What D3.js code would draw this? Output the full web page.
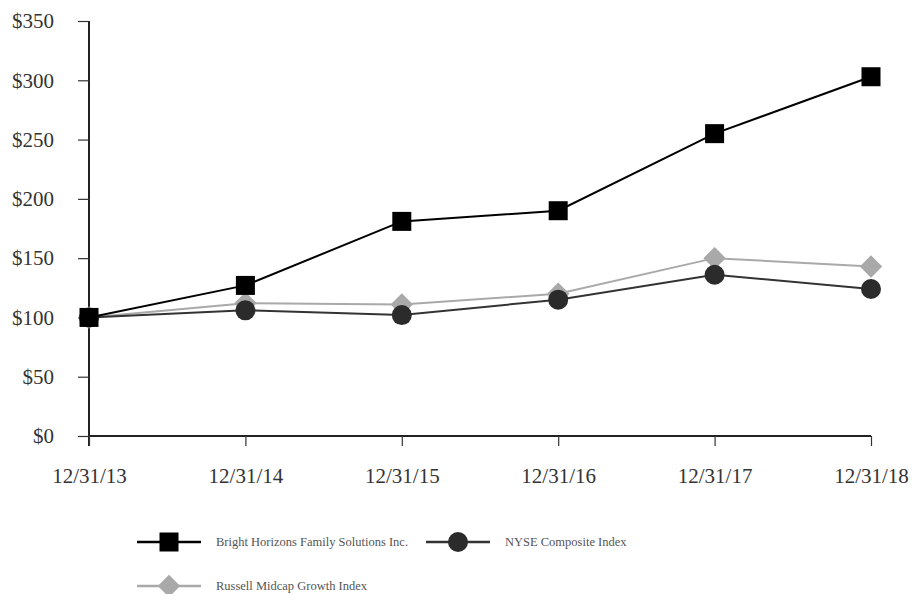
<!DOCTYPE html>
<html>
<head>
<meta charset="utf-8">
<script src="https://cdn.jsdelivr.net/npm/d3@7"></script>
<style>
  body { margin: 0; background: #fff; }
  text { font-family: "Liberation Serif", "Times New Roman", serif; }
</style>
</head>
<body>
<script>
var dates = ["12/31/13", "12/31/14", "12/31/15", "12/31/16", "12/31/17", "12/31/18"];
var brightHorizons = [100, 127, 181, 190, 255, 303];
var nyseComposite = [100, 106, 102, 115, 136, 124];
var russellMidcap = [100, 112, 111, 120, 150, 143];
var yTicks = [0, 50, 100, 150, 200, 250, 300, 350];

var series = [
  {name: "Russell Midcap Growth Index", values: russellMidcap, color: "#a9a9a9", fill: "#a9a9a9", shape: "diamond"},
  {name: "NYSE Composite Index", values: nyseComposite, color: "#333", fill: "#2b2b2b", shape: "circle"},
  {name: "Bright Horizons Family Solutions Inc.", values: brightHorizons, color: "#000", fill: "#000", shape: "square"}
];

var svg = d3.select("body").append("svg")
  .attr("width", 914)
  .attr("height", 594);

var x = d3.scalePoint().domain(dates).range([89, 871]);
var y = d3.scaleLinear().domain([0, 350]).range([436, 21]);

var yAxis = svg.append("g")
  .attr("transform", "translate(89,0)")
  .call(d3.axisLeft(y).tickValues(yTicks).tickSize(11).tickPadding(24).tickFormat(function(d){ return "$" + d; }));
var xAxis = svg.append("g")
  .attr("transform", "translate(0,436)")
  .call(d3.axisBottom(x).tickSize(10).tickPadding(22));

[yAxis, xAxis].forEach(function(g){
  g.select(".domain").attr("stroke", "#222").attr("stroke-width", 2);
  g.selectAll(".tick line").attr("stroke", "#333").attr("stroke-width", 1.2);
  g.selectAll(".tick text").attr("fill", "#333").style("font-size", "21px").style("font-family", "Liberation Serif, serif");
});
xAxis.select(".domain").attr("d", "M89,0H871");
yAxis.select(".domain").attr("d", "M0,21V446");

function marker(g, shape, fill, cx, cy) {
  if (shape == "square") {
    g.append("rect").attr("x", cx - 9.5).attr("y", cy - 9.5).attr("width", 19).attr("height", 19).attr("fill", fill);
  } else if (shape == "circle") {
    g.append("circle").attr("cx", cx).attr("cy", cy).attr("r", 10).attr("fill", fill);
  } else {
    g.append("path").attr("d", d3.symbol().type(d3.symbolDiamond2).size(320)())
      .attr("transform", "translate(" + cx + "," + cy + ")").attr("fill", fill);
  }
}

var line = d3.line()
  .x(function(d, i){ return x(dates[i]); })
  .y(function(d){ return y(d); });

series.forEach(function(s){
  var g = svg.append("g");
  g.append("path").datum(s.values)
    .attr("d", line)
    .attr("fill", "none")
    .attr("stroke", s.color)
    .attr("stroke-width", 2);
  s.values.forEach(function(v, i){
    marker(g, s.shape, s.fill, x(dates[i]), y(v));
  });
});

// legend
var legendItems = [
  {s: series[2], lx: 137, ly: 542},
  {s: series[1], lx: 426, ly: 542},
  {s: series[0], lx: 137, ly: 586}
];
legendItems.forEach(function(it){
  var g = svg.append("g");
  g.append("line").attr("x1", it.lx).attr("x2", it.lx + 64).attr("y1", it.ly).attr("y2", it.ly)
    .attr("stroke", it.s.color).attr("stroke-width", 2.5);
  marker(g, it.s.shape, it.s.fill, it.lx + 32, it.ly);
  g.append("text").attr("x", it.lx + 79).attr("y", it.ly + 4)
    .attr("fill", "#555").style("font-size", "12.5px").text(it.s.name);
});
</script>
</body>
</html>
